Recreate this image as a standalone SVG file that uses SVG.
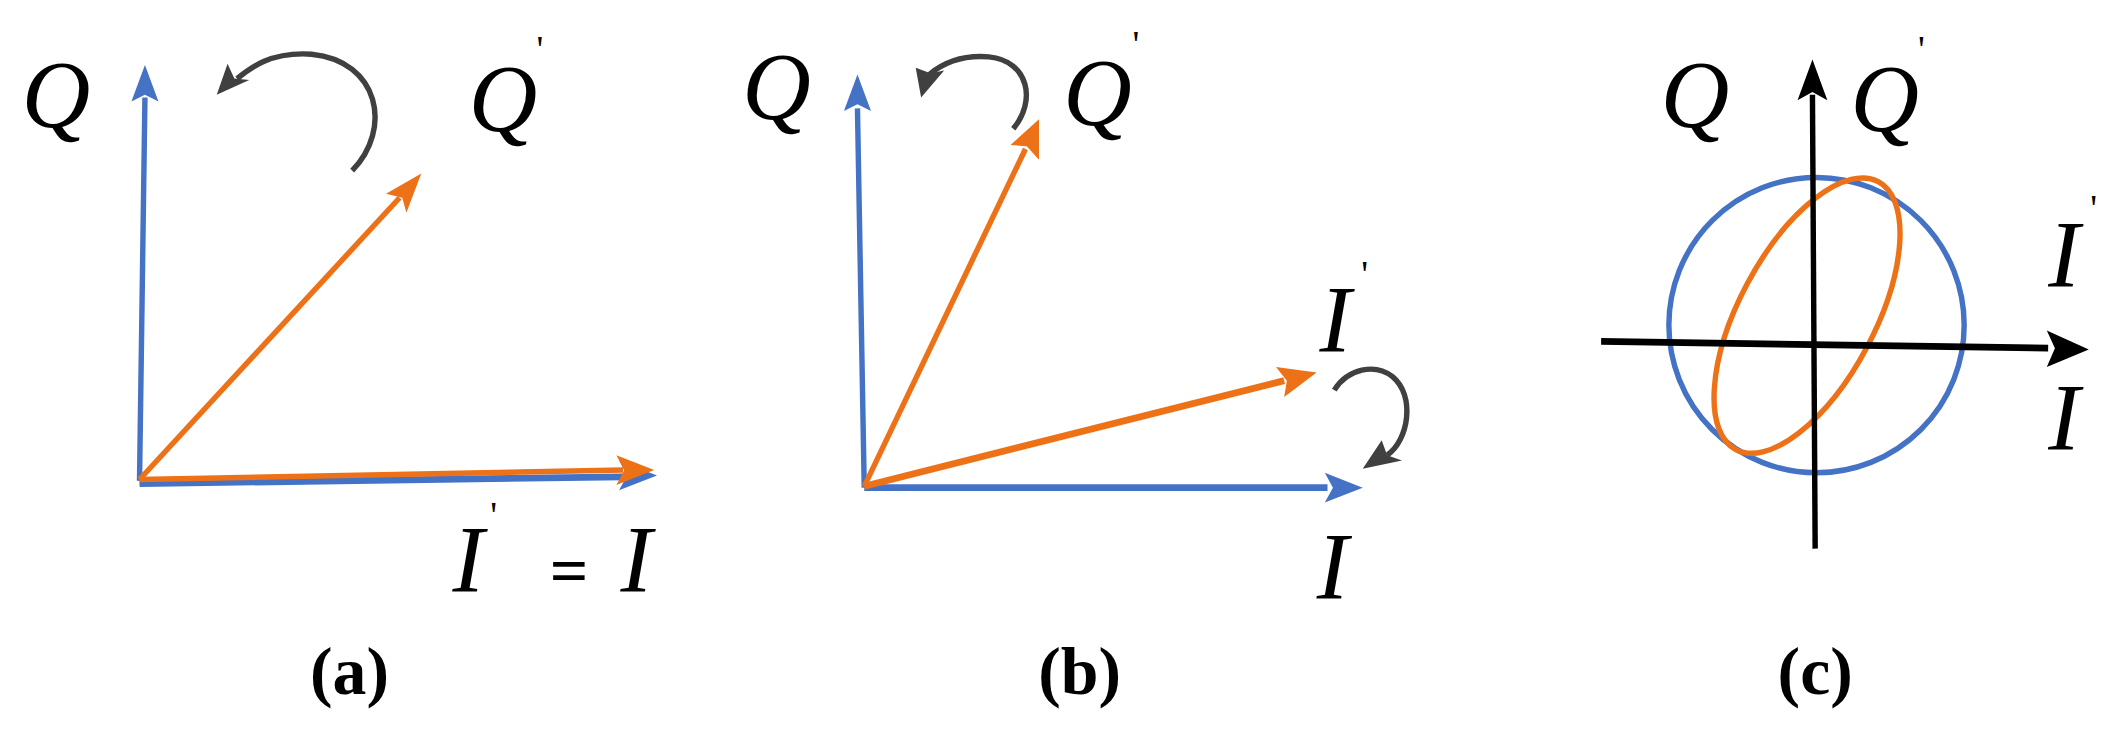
<svg xmlns="http://www.w3.org/2000/svg" width="2124" height="731" viewBox="0 0 2124 731">
<style>
.b{stroke:#4472C4;fill:none}
.o{stroke:#ED7117;fill:none}
.g{stroke:#404040;fill:none;stroke-width:4}
.k{stroke:#000;fill:none}
.t{font-family:"Liberation Serif",serif;font-style:italic;font-size:70px;fill:#000}
.p{font-family:"Liberation Serif",serif;font-size:28px;fill:#000}
.c{font-family:"Liberation Serif",serif;font-weight:bold;font-size:50px;fill:#000;text-anchor:middle}
</style>
<rect width="2124" height="731" fill="#fff"/>
<g transform="scale(1.3546)">
<g id="connectors">
<line class="b" x1="103" y1="355" x2="107" y2="72" stroke-width="4"/>
<path d="M107,48L117,75L107,70L97,75z" fill="#4472C4"/>
<line class="b" x1="103" y1="357" x2="460" y2="352" stroke-width="5"/>
<path d="M485,351L457,362L463,351L457,340z" fill="#4472C4"/>
<line class="o" x1="103" y1="354" x2="460" y2="347" stroke-width="4"/>
<path d="M483,347L455,358L461,347L455,336z" fill="#ED7117"/>
<line class="o" x1="103" y1="354" x2="295" y2="146" stroke-width="4"/>
<path d="M311,128L300,157L297,146L285,143z" fill="#ED7117"/>
<path class="g" d="M260,126C290,95 280,45 230,40C200,38 185,50 175,58"/>
<path d="M160,70L168,47L173,58L184,59z" fill="#404040"/>
<line class="b" x1="638" y1="360" x2="633" y2="80" stroke-width="4"/>
<path d="M633,55L643,82L633,77L623,82z" fill="#4472C4"/>
<line class="b" x1="638" y1="360" x2="980" y2="360" stroke-width="5"/>
<path d="M1006,360L978,371L984,360L978,349z" fill="#4472C4"/>
<line class="o" x1="638" y1="359" x2="757" y2="110" stroke-width="4"/>
<path d="M767,88L767,118L758,108L746,107z" fill="#ED7117"/>
<line class="o" x1="638" y1="359" x2="948" y2="281" stroke-width="5"/>
<path d="M972,275L948,293L950,281L942,271z" fill="#ED7117"/>
<path class="g" d="M748,95C765,75 760,45 730,42C705,40 692,50 686,55"/>
<path d="M680,72L676,50L687,54L697,52z" fill="#404040"/>
<path class="g" d="M985,288C995,272 1015,268 1028,278C1045,292 1040,325 1024,336"/>
<path d="M1006,346L1020,325L1024,336L1035,340z" fill="#404040"/>
<circle class="b" cx="1341" cy="240" r="109" stroke-width="4"/>
<ellipse class="o" cx="1334" cy="233" rx="112" ry="50" transform="rotate(-62 1334 233)" stroke-width="4"/>
<line class="k" x1="1340" y1="405" x2="1338" y2="70" stroke-width="4"/>
<path d="M1338,44L1349,74L1338,68L1327,74z" fill="#000"/>
<line class="k" x1="1182" y1="252" x2="1512" y2="257" stroke-width="5"/>
<path d="M1542,258L1511,271L1517,257L1511,244z" fill="#000"/>
</g>
<g id="labels">
<text class="t" x="16" y="94">Q</text>
<text class="t" x="346" y="97">Q</text><text class="p" x="396" y="46">'</text>
<text class="t" x="334" y="437">I</text><text class="p" x="362" y="390">'</text>
<text class="c" x="420" y="438">=</text>
<text class="t" x="458" y="437">I</text>
<text class="t" x="548" y="88">Q</text>
<text class="t" x="785" y="92">Q</text><text class="p" x="836" y="42">'</text>
<text class="t" x="974" y="260">I</text><text class="p" x="1005" y="212">'</text>
<text class="t" x="972" y="442">I</text>
<text class="t" x="1226" y="94">Q</text>
<text class="t" x="1366" y="97">Q</text><text class="p" x="1416" y="46">'</text>
<text class="t" x="1512" y="212">I</text><text class="p" x="1543" y="163">'</text>
<text class="t" x="1512" y="332">I</text>
<text class="c" x="258" y="512">(a)</text>
<text class="c" x="797" y="512">(b)</text>
<text class="c" x="1340" y="512">(c)</text>
</g>
</g>
</svg>
